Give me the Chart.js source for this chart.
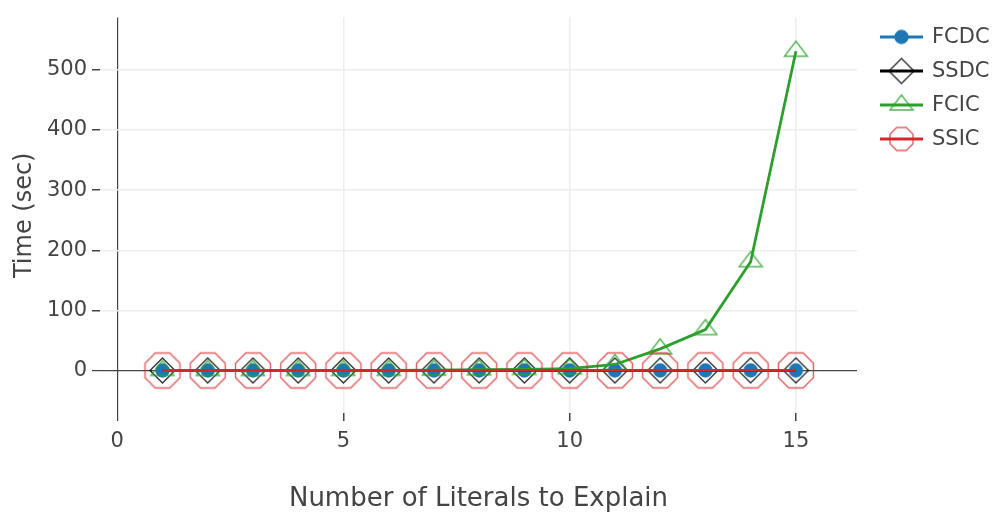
<!DOCTYPE html>
<html>
<head>
<meta charset="utf-8">
<script src="https://cdn.jsdelivr.net/npm/chart.js@4"></script>
<style>
  html, body { margin: 0; padding: 0; background: #fff; }
  #wrap { width: 996px; height: 512px; position: relative; }
</style>
</head>
<body>
<div id="wrap"><canvas id="chart" width="996" height="512"></canvas></div>
<script>
// Number of literals to explain (x values)
const literals = [1, 2, 3, 4, 5, 6, 7, 8, 9, 10, 11, 12, 13, 14, 15];

// Running time in seconds for each method
const fcdc = [0.01, 0.01, 0.01, 0.02, 0.02, 0.03, 0.03, 0.04, 0.05, 0.06, 0.07, 0.08, 0.1, 0.12, 0.14];
const ssdc = [0.01, 0.01, 0.02, 0.02, 0.03, 0.03, 0.04, 0.05, 0.06, 0.07, 0.08, 0.1, 0.12, 0.14, 0.16];
const fcic = [0.01, 0.02, 0.04, 0.08, 0.15, 0.3, 0.6, 1.2, 1.8, 3, 10, 36, 68, 181, 531];
const ssic = [0.01, 0.01, 0.02, 0.02, 0.03, 0.04, 0.05, 0.06, 0.07, 0.08, 0.1, 0.12, 0.14, 0.16, 0.18];

const seriesNames = ['FCDC', 'SSDC', 'FCIC', 'SSIC'];
const seriesValues = [fcdc, ssdc, fcic, ssic];

// Axis tick labels
const xTicks = [0, 5, 10, 15];
const yTicks = [0, 100, 200, 300, 400, 500];

const BLUE = '#1f77b4', BLACK = '#000000', GREEN = '#2ca02c', RED = '#d62728';
const FONT = '"DejaVu Sans", Verdana, sans-serif';
const TEXT = '#444';

// Marker glyphs: filled circle, open diamond, open triangle-up, open octagon
function makeMarker(kind, r, stroke, fill) {
  const size = Math.ceil(r * 2 + 6);
  const c = document.createElement('canvas');
  c.width = size; c.height = size;
  const g = c.getContext('2d');
  g.translate(size / 2, size / 2);
  g.beginPath();
  if (kind === 'triangle') {
    const rt = r * 2 / Math.sqrt(3), r2 = r / 2;
    g.moveTo(-rt, r2); g.lineTo(rt, r2); g.lineTo(0, -r); g.closePath();
  } else if (kind === 'octagon') {
    const a = r * 0.92, b = r * 0.38;
    g.moveTo(-b, -a); g.lineTo(b, -a); g.lineTo(a, -b); g.lineTo(a, b);
    g.lineTo(b, a); g.lineTo(-b, a); g.lineTo(-a, b); g.lineTo(-a, -b); g.closePath();
  } else if (kind === 'diamond') {
    g.moveTo(r, 0); g.lineTo(0, r); g.lineTo(-r, 0); g.lineTo(0, -r); g.closePath();
  } else {
    g.arc(0, 0, r, 0, Math.PI * 2);
  }
  if (fill) { g.fillStyle = fill; g.fill(); }
  g.lineWidth = 1.4;
  g.strokeStyle = stroke;
  g.stroke();
  return c;
}

const markers = [
  makeMarker('circle', 6.5, BLUE, BLUE),
  makeMarker('diamond', 12.5, 'rgba(0,0,0,0.8)', null),
  makeMarker('triangle', 10, 'rgba(44,160,44,0.8)', null),
  makeMarker('octagon', 19, 'rgba(214,39,40,0.75)', null)
];
const legendMarkers = [
  markers[0],
  markers[1],
  markers[2],
  makeMarker('octagon', 12.5, 'rgba(214,39,40,0.75)', null)
];
const colors = [BLUE, BLACK, GREEN, RED];

const datasets = seriesNames.map((name, i) => ({
  label: name,
  data: literals.map((x, j) => ({ x: x, y: seriesValues[i][j] })),
  borderColor: colors[i],
  backgroundColor: colors[i],
  borderWidth: 2.8,
  pointStyle: markers[i],
  pointRadius: 6,
  pointHoverRadius: 6,
  tension: 0,
  order: 4 - i
}));

// Legend at the right of the plot: line with marker, then label
const sideLegend = {
  id: 'sideLegend',
  afterDraw(chart) {
    const ctx = chart.ctx;
    const x0 = 880, x1 = 923, tx = 932;
    const ys = [37, 71, 105, 139];
    ctx.save();
    chart.data.datasets.forEach((ds, i) => {
      const y = ys[i];
      ctx.strokeStyle = ds.borderColor;
      ctx.lineWidth = 2.8;
      ctx.beginPath(); ctx.moveTo(x0, y); ctx.lineTo(x1, y); ctx.stroke();
      const m = legendMarkers[i];
      ctx.drawImage(m, (x0 + x1) / 2 - m.width / 2, y - m.height / 2);
      ctx.fillStyle = TEXT;
      ctx.font = '21px ' + FONT;
      ctx.textAlign = 'left';
      ctx.textBaseline = 'middle';
      ctx.fillText(ds.label, tx, y + 1);
    });
    ctx.restore();
  }
};

new Chart(document.getElementById('chart'), {
  type: 'line',
  data: { datasets: datasets },
  plugins: [sideLegend],
  options: {
    responsive: false,
    animation: false,
    events: [],
    layout: { padding: { top: 13, right: 139, left: 0, bottom: 0 } },
    plugins: { legend: { display: false }, tooltip: { enabled: false } },
    scales: {
      x: {
        type: 'linear',
        min: -0.38,
        max: 16.35,
        afterBuildTicks(scale) { scale.ticks = xTicks.map(v => ({ value: v })); },
        afterFit(scale) { scale.height = 99; },
        border: { display: false },
        grid: {
          color: c => (c.tick && c.tick.value === 0) ? '#444' : '#eeeeee',
          lineWidth: c => (c.tick && c.tick.value === 0) ? 1.2 : 1.5,
          tickColor: '#444',
          tickLength: 8,
          drawTicks: true
        },
        ticks: { color: TEXT, font: { family: FONT, size: 21 }, padding: 8, maxRotation: 0 },
        title: {
          display: true,
          text: 'Number of Literals to Explain',
          color: TEXT,
          font: { family: FONT, size: 26, lineHeight: 1 },
          padding: { top: 0, bottom: 0 }
        }
      },
      y: {
        type: 'linear',
        min: -70.7,
        max: 587,
        afterBuildTicks(scale) { scale.ticks = yTicks.map(v => ({ value: v })); },
        afterFit(scale) { scale.width = 100; },
        border: { display: false },
        grid: {
          color: c => (c.tick && c.tick.value === 0) ? '#444' : '#eeeeee',
          lineWidth: c => (c.tick && c.tick.value === 0) ? 1.2 : 1.5,
          tickColor: '#444',
          tickLength: 8
        },
        ticks: { color: TEXT, font: { family: FONT, size: 21 }, padding: 5 },
        title: {
          display: true,
          text: 'Time (sec)',
          color: TEXT,
          font: { family: FONT, size: 24, lineHeight: 1 },
          padding: { top: 13, bottom: 0 }
        }
      }
    }
  }
});
</script>
</body>
</html>
